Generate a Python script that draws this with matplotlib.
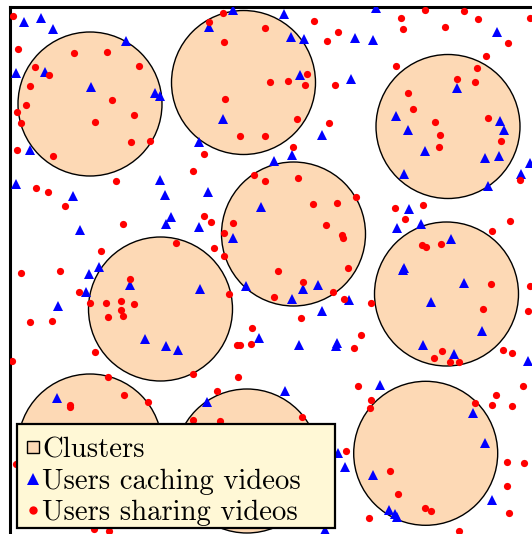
import matplotlib
matplotlib.use("Agg")
import matplotlib.pyplot as plt
from matplotlib.patches import Circle, Rectangle
from matplotlib.lines import Line2D

# Positions in picture units (x right, y down).
cluster_x = [90, 243.5, 448, 293.5, 446.5, 160.5, 90, 247, 425.7]
cluster_y = [104, 82.5, 126.5, 234, 294, 309, 446, 461, 453.3]
cluster_r = 72

caching_x = [24, 41, 53, 233, 209, 126, 16, 45, 91, 155, 160, 223, 30, 199, 16,
             160, 165, 73, 208, 261, 171, 166, 199, 80, 233, 99,
             284, 376, 291, 304, 355, 373, 497, 300, 351, 457, 396, 408, 500,
             504, 425, 485, 499, 530, 521, 488, 404, 322, 292, 274, 409, 397,
             421, 451, 404,
             89, 86, 130, 200, 246, 58, 145, 166, 178, 259, 57, 207,
             303, 318, 292, 349, 322, 403, 464, 431, 482, 423, 454, 528, 299,
             337, 336, 380, 285, 473, 485, 338, 345, 373, 492, 389, 395, 397, 325]
caching_y = [22, 18, 29, 10, 27, 41, 73, 72, 87, 93, 96, 119, 150, 142, 184,
             180, 195, 196, 192, 207, 217, 224, 227, 230, 238, 267,
             14, 8, 37, 39, 38, 40, 32, 75, 79, 88, 116, 130, 121,
             130, 151, 158, 156, 163, 174, 186, 174, 135, 155, 161, 209, 228,
             224, 239, 268,
             274, 292, 285, 289, 286, 306, 339, 346, 350, 338, 398, 402,
             289, 285, 299, 300, 311, 270, 283, 302, 331, 345, 354, 361, 345,
             343, 346, 385, 391, 413, 443, 453, 467, 475, 500, 510, 514, 517, 530]

sharing_x = [12.7, 223, 209, 265, 18, 74, 107, 224, 35, 49, 139, 30, 270, 112,
             225, 26, 17, 134, 21, 95, 240, 265, 131, 150, 17, 53, 204, 193,
             254, 265, 116, 36, 48, 65, 204, 211, 233, 123, 224, 214, 224, 176,
             101, 60,
             314, 338, 327, 401, 403, 425, 445, 464, 478, 530, 508, 486, 477,
             396, 457, 475, 288, 307, 305, 335, 408, 413, 435, 488, 440, 439,
             501, 297, 329, 293, 520, 298, 313, 337, 356, 326, 342, 343, 395,
             423, 405, 510, 492, 422, 426, 441, 348, 278,
             21, 130, 79, 90, 106, 121, 134, 121, 108, 123, 229, 30, 52, 95,
             12, 252, 251, 237, 240, 193, 238, 108, 124, 148, 217, 70, 70, 193,
             220, 16, 94, 109,
             303, 274, 333, 344, 371, 301, 361, 354, 491, 530, 483, 528, 442,
             434, 450, 459, 503, 512, 523, 358, 371, 370, 475, 496, 492, 512,
             302, 346, 507, 524, 507, 390, 398, 425, 431, 369, 509, 459]
sharing_y = [16, 12.7, 22, 28, 49, 53, 52, 42, 67, 75, 66, 86, 82, 100,
             99, 105, 112, 115, 123, 122, 136, 136, 142, 141, 150, 156, 154, 171,
             175, 181, 181, 188, 192, 206, 216, 222, 223, 224, 233, 248, 256, 243,
             251, 271,
             21, 32, 41, 18, 29, 10, 27, 11, 19, 18, 43, 56, 68,
             66, 79, 82, 81, 74, 85, 85, 93, 109, 122, 118, 135, 147,
             141, 119, 123, 147, 180, 178, 204, 203, 197, 225, 235, 238, 208,
             205, 219, 221, 231, 245, 247, 244, 268, 271,
             273, 279, 292, 303, 303, 301, 304, 310, 317, 316, 294, 322, 321, 352,
             361, 328, 344, 345, 345, 374, 377, 377, 395, 402, 391, 405, 407, 420,
             421, 464, 529, 531,
             282, 297, 292, 299, 303, 318, 335, 348, 284, 286, 309, 311, 351,
             358, 362, 362, 350, 353, 386, 386, 400, 408, 403, 395, 405, 406,
             417, 451, 462, 463, 486, 471, 494, 508, 511, 518, 513, 531]

labels = ["Clusters", "Users caching videos", "Users sharing videos"]

peach = "#FDD9B5"
legend_bg = "#FFF8D6"

plt.rcParams["font.family"] = ["cmr10", "DejaVu Serif"]

fig = plt.figure(figsize=(5.32, 5.34), dpi=100)
# axes frame: left/top edges inside the picture, right/bottom cut off
ax = fig.add_axes([9.5 / 532, -12 / 534, 535.5 / 532, 539 / 534])
ax.set_xlim(9.5, 545)
ax.set_ylim(546, 7)
ax.set_xticks([])
ax.set_yticks([])
for s in ax.spines.values():
    s.set_linewidth(2.2)

for cx, cy in zip(cluster_x, cluster_y):
    ax.add_patch(Circle((cx, cy), cluster_r, facecolor=peach,
                        edgecolor="black", linewidth=1.0, zorder=1))

ax.plot(caching_x, caching_y, "^", color="#0000FF", markersize=7.5,
        markeredgewidth=0, zorder=3)
ax.plot(sharing_x, sharing_y, "o", color="#FF0000", markersize=5.2,
        markeredgewidth=0, zorder=3)

# legend box (drawn separately so the padding can be uneven, like the original)
ax.add_patch(Rectangle((7.8 / 535.5, 17.7 / 539), 317.7 / 535.5, 104.3 / 539,
                       transform=ax.transAxes, facecolor=legend_bg,
                       edgecolor="black", linewidth=1.6, zorder=4))

handles = [
    Line2D([], [], marker="s", linestyle="none", markerfacecolor=peach,
           markeredgecolor="black", markeredgewidth=1.0, markersize=8.3),
    Line2D([], [], marker="^", linestyle="none", color="#0000FF",
           markeredgewidth=0, markersize=8.5),
    Line2D([], [], marker="o", linestyle="none", color="#FF0000",
           markeredgewidth=0, markersize=6),
]
leg = ax.legend(handles, labels, loc="lower left",
                bbox_to_anchor=(7.8 / 535.5, 11.2 / 539), borderaxespad=0,
                fontsize=20.7, handlelength=0.5, handletextpad=0.06,
                labelspacing=0.18, borderpad=0.3, frameon=False)
leg.set_zorder(5)

fig.savefig("out.png", dpi=100)
